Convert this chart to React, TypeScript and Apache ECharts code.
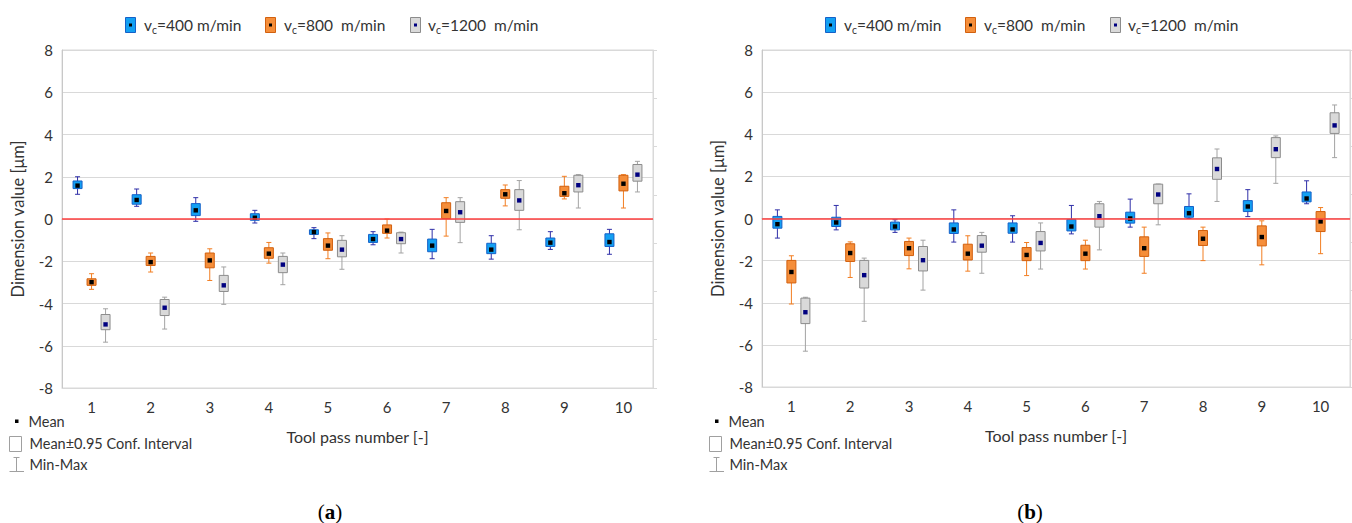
import React, { useEffect, useRef } from "react";
import * as echarts from "echarts";

const passes = ["1", "2", "3", "4", "5", "6", "7", "8", "9", "10"];
const speedLabels = ["=400 m/min", "=800  m/min", "=1200  m/min"];

// each entry: [min, ciLow, mean, ciHigh, max]
const a400 = [
  [1.17, 1.44, 1.58, 1.8, 2.0],
  [0.6, 0.7, 0.9, 1.15, 1.42],
  [-0.11, 0.16, 0.41, 0.73, 1.01],
  [-0.19, -0.06, 0.06, 0.25, 0.41],
  [-0.93, -0.73, -0.62, -0.51, -0.41],
  [-1.22, -1.11, -0.95, -0.73, -0.6],
  [-1.88, -1.55, -1.26, -0.95, -0.49],
  [-1.9, -1.64, -1.45, -1.15, -0.79],
  [-1.44, -1.3, -1.12, -0.9, -0.6],
  [-1.67, -1.3, -1.09, -0.7, -0.49],
];
const a800 = [
  [-3.33, -3.14, -2.99, -2.83, -2.59],
  [-2.51, -2.2, -2.04, -1.77, -1.61],
  [-2.91, -2.31, -1.96, -1.61, -1.41],
  [-2.09, -1.86, -1.64, -1.36, -1.11],
  [-1.88, -1.48, -1.26, -0.93, -0.66],
  [-0.9, -0.68, -0.55, -0.28, 0.0],
  [-0.81, 0.02, 0.38, 0.77, 1.01],
  [0.62, 0.98, 1.17, 1.39, 1.61],
  [0.95, 1.07, 1.22, 1.55, 2.02],
  [0.52, 1.33, 1.67, 2.07, 2.1],
];
const a1200 = [
  [-5.83, -5.24, -4.99, -4.52, -4.25],
  [-5.21, -4.57, -4.2, -3.81, -3.7],
  [-4.04, -3.43, -3.14, -2.67, -2.27],
  [-3.11, -2.54, -2.16, -1.77, -1.61],
  [-2.38, -1.79, -1.45, -1.01, -0.79],
  [-1.61, -1.17, -0.95, -0.65, -0.62],
  [-1.12, -0.16, 0.32, 0.82, 1.01],
  [-0.51, 0.41, 0.88, 1.39, 1.82],
  [0.52, 1.28, 1.6, 2.07, 2.1],
  [1.28, 1.79, 2.1, 2.58, 2.73],
];
const b400 = [
  [-0.93, -0.46, -0.27, 0.1, 0.41],
  [-0.54, -0.38, -0.19, 0.06, 0.62],
  [-0.66, -0.54, -0.38, -0.17, -0.06],
  [-1.12, -0.71, -0.52, -0.21, 0.41],
  [-1.12, -0.7, -0.52, -0.21, 0.13],
  [-0.73, -0.59, -0.38, -0.05, 0.62],
  [-0.41, -0.22, 0.0, 0.3, 0.92],
  [0.0, 0.06, 0.25, 0.57, 1.17],
  [0.09, 0.33, 0.57, 0.85, 1.37],
  [0.7, 0.79, 0.95, 1.26, 1.79],
];
const b800 = [
  [-4.06, -3.06, -2.54, -1.99, -1.77],
  [-2.8, -2.04, -1.64, -1.2, -1.11],
  [-2.39, -1.76, -1.41, -1.09, -0.93],
  [-2.5, -1.97, -1.67, -1.22, -0.82],
  [-2.71, -2.0, -1.73, -1.38, -1.14],
  [-2.4, -2.0, -1.67, -1.27, -1.03],
  [-2.6, -1.8, -1.41, -0.87, -0.41],
  [-2.0, -1.28, -0.96, -0.57, -0.41],
  [-2.2, -1.3, -0.88, -0.35, -0.11],
  [-1.67, -0.62, -0.14, 0.33, 0.52],
];
const b1200 = [
  [-6.3, -4.99, -4.45, -3.78, -3.74],
  [-4.88, -3.3, -2.69, -1.99, -1.88],
  [-3.4, -2.49, -1.98, -1.33, -1.03],
  [-2.6, -1.6, -1.29, -0.81, -0.66],
  [-2.4, -1.54, -1.16, -0.62, -0.21],
  [-1.49, -0.41, 0.11, 0.7, 0.81],
  [-0.3, 0.7, 1.14, 1.63, 1.64],
  [0.81, 1.86, 2.35, 2.88, 3.3],
  [1.67, 2.89, 3.29, 3.84, 3.92],
  [2.89, 4.04, 4.42, 5.02, 5.39],
];

const FONT = "Lato, 'Open Sans', sans-serif";
const TXT = "#333333";
const GRID_C = "#D9D9D9";

const styles = [
  { fill: "#13A0F2", stroke: "#1560C8", whisker: "#2F2FA8", mean: "#000000" },
  { fill: "#F58E3A", stroke: "#D2600E", whisker: "#F27E22", mean: "#000000" },
  { fill: "#D9D9D9", stroke: "#8C8C8C", whisker: "#A3A3A3", mean: "#000080" },
];
const offsets = [-14, 0, 14];

export default function App() {
  const ref = useRef<HTMLDivElement>(null);
  useEffect(() => {
    const chart = echarts.init(ref.current!, null, { renderer: "svg" });
    const charts = [
      [a400, a800, a1200],
      [b400, b800, b1200],
    ];
    const grids = [
      { left: 62, top: 50, width: 591, height: 338 },
      { left: 762, top: 50, width: 588, height: 337 },
    ];
    const xAxis: any[] = [];
    const yAxis: any[] = [];
    grids.forEach((_, i) => {
      xAxis.push({
        type: "category",
        gridIndex: i,
        data: passes,
        boundaryGap: true,
        axisLine: { lineStyle: { color: "#C8C8C8" } },
        axisTick: { alignWithLabel: true, length: 4, lineStyle: { color: "#C8C8C8" } },
        axisLabel: { color: TXT, fontSize: 15, margin: 11, fontFamily: FONT },
        splitLine: { show: false },
        name: "Tool pass number [-]",
        nameLocation: "middle",
        nameGap: 40,
        nameTextStyle: { color: TXT, fontSize: 16, fontFamily: FONT },
      });
      xAxis.push({
        type: "category",
        gridIndex: i,
        position: "top",
        data: passes,
        boundaryGap: true,
        axisLine: { lineStyle: { color: GRID_C } },
        axisTick: { inside: true, alignWithLabel: true, length: 9, lineStyle: { color: GRID_C } },
        axisLabel: { show: false },
        splitLine: { show: false },
      });
      yAxis.push({
        type: "value",
        gridIndex: i,
        min: -8,
        max: 8,
        interval: 2,
        axisLine: { show: true, lineStyle: { color: "#C8C8C8" } },
        axisTick: { show: false },
        axisLabel: { color: TXT, fontSize: 15, margin: 9, fontFamily: FONT },
        splitLine: { show: true, lineStyle: { color: GRID_C, width: 1 } },
        name: "Dimension value [\u03bcm]",
        nameLocation: "middle",
        nameGap: 36,
        nameRotate: 90,
        nameTextStyle: { color: TXT, fontSize: 16.5, fontFamily: FONT },
      });
      yAxis.push({
        type: "value",
        gridIndex: i,
        position: "right",
        min: 0,
        max: 7,
        interval: 1,
        axisLine: { show: true, lineStyle: { color: GRID_C } },
        axisTick: { show: true, length: 4, lineStyle: { color: GRID_C } },
        axisLabel: { show: false },
        splitLine: { show: false },
      });
    });

    const series: any[] = [];
    charts.forEach((groups, c) => {
      groups.forEach((arr, s) => {
        const st = styles[s];
        const off = offsets[s];
        series.push({
          type: "custom",
          name: "s" + c + s,
          xAxisIndex: 2 * c,
          yAxisIndex: 2 * c,
          data: arr.map((d, i) => [i, ...d]),
          encode: { x: 0, y: [1, 2, 3, 4, 5] },
          z: 3,
          renderItem: (params: any, api: any) => {
            const idx = api.value(0);
            const pMin = api.coord([idx, api.value(1)]);
            const x = pMin[0] + off;
            const yMin = pMin[1];
            const yLo = api.coord([idx, api.value(2)])[1];
            const yMean = api.coord([idx, api.value(3)])[1];
            const yHi = api.coord([idx, api.value(4)])[1];
            const yMax = api.coord([idx, api.value(5)])[1];
            const wl = { stroke: st.whisker, lineWidth: 1 };
            return {
              type: "group",
              children: [
                { type: "line", shape: { x1: x, y1: yMax, x2: x, y2: yMin }, style: wl },
                { type: "line", shape: { x1: x - 2.5, y1: yMax, x2: x + 2.5, y2: yMax }, style: wl },
                { type: "line", shape: { x1: x - 2.5, y1: yMin, x2: x + 2.5, y2: yMin }, style: wl },
                {
                  type: "rect",
                  shape: { x: x - 4.5, y: yHi, width: 9, height: yLo - yHi },
                  style: { fill: st.fill, stroke: st.stroke, lineWidth: 1 },
                },
                {
                  type: "rect",
                  shape: { x: x - 2.2, y: yMean - 2.2, width: 4.4, height: 4.4 },
                  style: { fill: st.mean },
                },
              ],
            };
          },
        });
      });
      series.push({
        type: "line",
        xAxisIndex: 2 * c,
        yAxisIndex: 2 * c,
        data: passes.map(() => null),
        z: 2,
        markLine: {
          silent: true,
          symbol: "none",
          label: { show: false },
          lineStyle: { color: "#FF3F3F", width: 1.6, type: "solid" },
          data: [{ yAxis: 0 }],
        },
      });
    });

    const graphic: any[] = [];
    const legendBoxX = [125, 265, 410];
    const legendTextX = [144, 284, 428];
    [0, 700].forEach((dx) => {
      styles.forEach((st, s) => {
        graphic.push({
          type: "rect",
          shape: { x: legendBoxX[s] + dx + 0.5, y: 17.5, width: 10, height: 15 },
          style: { fill: st.fill, stroke: st.stroke, lineWidth: 1 },
        });
        graphic.push({
          type: "rect",
          shape: { x: legendBoxX[s] + dx + 4, y: 23.5, width: 3, height: 3 },
          style: { fill: st.mean },
        });
        graphic.push({
          type: "text",
          x: legendTextX[s] + dx,
          y: 25,
          style: {
            text: "{v|v}{s|c}{t|" + speedLabels[s] + "}",
            verticalAlign: "middle",
            rich: {
              v: { fontSize: 15.5, fontFamily: FONT, fill: TXT, lineHeight: 20, verticalAlign: "middle" },
              s: { fontSize: 10.5, fontFamily: FONT, fill: TXT, lineHeight: 13, verticalAlign: "bottom" },
              t: { fontSize: 15.5, fontFamily: FONT, fill: TXT, lineHeight: 20, verticalAlign: "middle" },
            },
          },
        });
      });
      // bottom-left legend
      graphic.push({
        type: "rect",
        shape: { x: 15 + dx, y: 419.5, width: 3.5, height: 3.5 },
        style: { fill: "#000" },
      });
      graphic.push({
        type: "text",
        x: 28.5 + dx,
        y: 421,
        style: { text: "Mean", fontSize: 14.5, fontFamily: FONT, fill: TXT, verticalAlign: "middle" },
      });
      graphic.push({
        type: "rect",
        shape: { x: 9.5 + dx, y: 436.5, width: 12, height: 15 },
        style: { fill: "#fff", stroke: "#A0A0A0", lineWidth: 1 },
      });
      graphic.push({
        type: "text",
        x: 29.5 + dx,
        y: 443.5,
        style: {
          text: "Mean\u00b10.95 Conf. Interval",
          fontSize: 14.5,
          fontFamily: FONT,
          fill: TXT,
          verticalAlign: "middle",
        },
      });
      graphic.push({
        type: "line",
        shape: { x1: 16.5 + dx, y1: 457, x2: 16.5 + dx, y2: 471 },
        style: { stroke: "#A0A0A0", lineWidth: 1 },
      });
      graphic.push({
        type: "line",
        shape: { x1: 13.5 + dx, y1: 457.5, x2: 19.5 + dx, y2: 457.5 },
        style: { stroke: "#A0A0A0", lineWidth: 1 },
      });
      graphic.push({
        type: "line",
        shape: { x1: 9.5 + dx, y1: 471.5, x2: 24 + dx, y2: 471.5 },
        style: { stroke: "#A0A0A0", lineWidth: 1 },
      });
      graphic.push({
        type: "text",
        x: 29.5 + dx,
        y: 464,
        style: { text: "Min-Max", fontSize: 14.5, fontFamily: FONT, fill: TXT, verticalAlign: "middle" },
      });
    });
    ["a", "b"].forEach((lab, i) => {
      graphic.push({
        type: "text",
        x: 330 + 700 * i,
        y: 512,
        style: {
          text: "{n|(}{b|" + lab + "}{n|)}",
          align: "center",
          verticalAlign: "middle",
          rich: {
            n: { fontSize: 21, fontFamily: "'Liberation Serif', serif", fill: "#000" },
            b: { fontSize: 21, fontFamily: "'Liberation Serif', serif", fontWeight: "bold", fill: "#000" },
          },
        },
      });
    });

    chart.setOption({
      animation: false,
      backgroundColor: "#ffffff",
      grid: grids.map((g) => ({ ...g, show: true, borderColor: GRID_C, borderWidth: 1, backgroundColor: "transparent" })),
      xAxis,
      yAxis,
      series,
      graphic,
    });
    return () => chart.dispose();
  }, []);
  return (
    <div
      ref={ref}
      style={{ position: "absolute", left: 0, top: 0, width: 1352, height: 523, background: "#fff" }}
    />
  );
}
